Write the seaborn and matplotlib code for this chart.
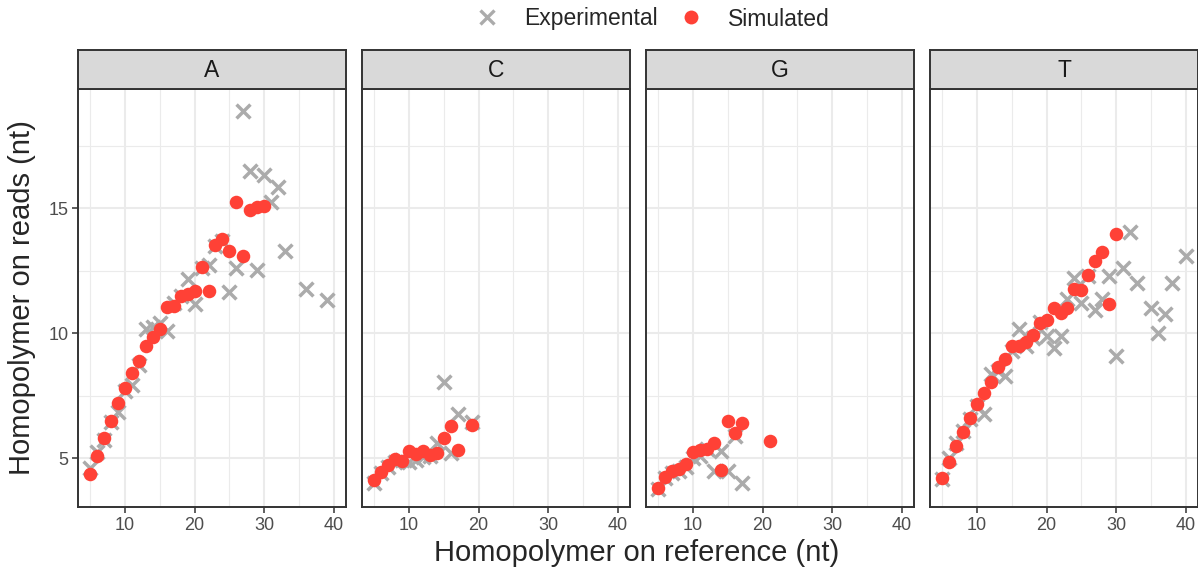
import pandas as pd
import seaborn as sb
import matplotlib.pyplot as plt
from matplotlib.lines import Line2D

# homopolymer length on reference vs on reads, per base
a_exp_x = [5, 6, 7, 8, 9, 10, 11, 12, 13, 14, 15, 16, 17, 18, 19, 20, 21, 22, 23, 24, 25, 26, 27, 28, 29, 30, 31, 32, 33, 36, 39]
a_exp_y = [4.6, 5.27, 5.75, 6.47, 6.87, 7.7, 7.93, 8.73, 10.16, 10.24, 10.4, 10.07, 11.2, 11.5, 12.16, 11.16, 12.6, 12.73, 13.5, 13.7, 11.64, 12.6, 18.87, 16.5, 12.53, 16.33, 15.23, 15.83, 13.27, 11.76, 11.33]
a_sim_x = [5, 6, 7, 8, 9, 10, 11, 12, 13, 14, 15, 16, 17, 18, 19, 20, 21, 22, 23, 24, 25, 26, 27, 28, 29, 30]
a_sim_y = [4.36, 5.11, 5.8, 6.5, 7.2, 7.83, 8.4, 8.9, 9.49, 9.84, 10.16, 11.04, 11.07, 11.47, 11.57, 11.68, 12.65, 11.69, 13.53, 13.76, 13.27, 15.25, 13.09, 14.93, 15.04, 15.07]

c_exp_x = [5, 6, 7, 8, 9, 10, 11, 12, 13, 14, 15, 16, 17, 19]
c_exp_y = [4.03, 4.4, 4.65, 4.85, 4.95, 4.85, 4.95, 5.05, 5.1, 5.6, 8.07, 5.2, 6.77, 6.47]
c_sim_x = [5, 6, 7, 8, 9, 10, 11, 12, 13, 14, 15, 16, 17, 19]
c_sim_y = [4.12, 4.47, 4.73, 4.96, 4.9, 5.29, 5.17, 5.29, 5.13, 5.2, 5.81, 6.31, 5.33, 6.32]

g_exp_x = [5, 6, 7, 8, 9, 10, 11, 12, 13, 14, 15, 16, 17]
g_exp_y = [3.79, 4.2, 4.4, 4.5, 4.67, 5.0, 5.1, 5.36, 4.49, 5.29, 4.49, 5.9, 4.0]
g_sim_x = [5, 6, 7, 8, 9, 10, 11, 12, 13, 14, 15, 16, 17, 21]
g_sim_y = [3.83, 4.24, 4.49, 4.59, 4.76, 5.25, 5.33, 5.36, 5.63, 4.52, 6.51, 6.03, 6.43, 5.68]

t_exp_x = [5, 6, 7, 8, 9, 10, 11, 12, 13, 14, 15, 16, 17, 18, 19, 20, 21, 22, 23, 24, 25, 26, 27, 28, 29, 30, 31, 32, 33, 35, 36, 37, 38, 40]
t_exp_y = [4.19, 5.03, 5.6, 6.1, 6.56, 7.1, 6.76, 8.36, 8.5, 8.29, 9.3, 10.19, 9.5, 9.8, 10.43, 9.9, 9.43, 9.9, 11.36, 12.19, 11.2, 12.3, 10.93, 11.36, 12.27, 9.09, 12.59, 14.05, 12.03, 11.03, 10.03, 10.76, 12.03, 13.07]
t_sim_x = [5, 6, 7, 8, 9, 10, 11, 12, 13, 14, 15, 16, 17, 18, 19, 20, 21, 22, 23, 24, 25, 26, 27, 28, 29, 30]
t_sim_y = [4.23, 4.87, 5.49, 6.05, 6.63, 7.16, 7.63, 8.05, 8.63, 8.96, 9.49, 9.47, 9.65, 9.92, 10.4, 10.53, 10.99, 10.8, 10.99, 11.79, 11.73, 12.32, 12.89, 13.25, 11.16, 13.95]

bases = ['A', 'C', 'G', 'T']
exp_data = {'A': (a_exp_x, a_exp_y), 'C': (c_exp_x, c_exp_y), 'G': (g_exp_x, g_exp_y), 'T': (t_exp_x, t_exp_y)}
sim_data = {'A': (a_sim_x, a_sim_y), 'C': (c_sim_x, c_sim_y), 'G': (g_sim_x, g_sim_y), 'T': (t_sim_x, t_sim_y)}

sb.set_theme(style='white')
plt.rcParams['font.family'] = ['Liberation Sans', 'DejaVu Sans']

W, H = 1198, 571
fig = plt.figure(figsize=(W / 100, H / 100), dpi=100)

gray_x = '#ABABAB'
red = '#FF4136'
lefts = [78, 362, 646, 930]
pw = 268
top, bottom = 89, 507
strip_top = 50

for i, b in enumerate(bases):
    ax = fig.add_axes([lefts[i] / W, (H - bottom) / H, pw / W, (bottom - top) / H])
    ex = pd.DataFrame({'x': exp_data[b][0], 'y': exp_data[b][1]})
    si = pd.DataFrame({'x': sim_data[b][0], 'y': sim_data[b][1]})
    sb.scatterplot(data=ex, x='x', y='y', ax=ax, marker='x', color=gray_x, s=100, linewidth=2.5, zorder=3)
    sb.scatterplot(data=si, x='x', y='y', ax=ax, marker='o', color=red, s=95, linewidth=0, zorder=4)
    ax.set_xlim(3.25, 41.75)
    ax.set_ylim(3.05, 19.77)
    ax.set_xticks([10, 20, 30, 40])
    ax.set_xticks([5, 15, 25, 35], minor=True)
    ax.set_yticks([5, 10, 15])
    ax.set_yticks([7.5, 12.5, 17.5], minor=True)
    ax.grid(which='major', color='#EBEBEB', linewidth=1.5)
    ax.grid(which='minor', color='#EBEBEB', linewidth=0.8)
    ax.set_axisbelow(True)
    ax.set_xlabel('')
    ax.set_ylabel('')
    for s in ax.spines.values():
        s.set_color('#333333')
        s.set_linewidth(1.4)
    ax.tick_params(which='major', length=4, width=1.1, color='#333333', labelsize=13, labelcolor='#4D4D4D', pad=3,
                   bottom=True, left=(i == 0))
    ax.tick_params(which='minor', length=0)
    if i > 0:
        ax.set_yticklabels([])
    # facet strip
    sax = fig.add_axes([lefts[i] / W, (H - top) / H, pw / W, (top - strip_top) / H])
    sax.set_xticks([])
    sax.set_yticks([])
    sax.set_facecolor('#D9D9D9')
    for s in sax.spines.values():
        s.set_color('#333333')
        s.set_linewidth(1.4)
    sax.text(0.5, 0.47, b, ha='center', va='center', fontsize=16.5, color='#1A1A1A', transform=sax.transAxes)

fig.text(22 / W, 1 - 298 / H, 'Homopolymer on reads (nt)', rotation=90, ha='center', va='center', fontsize=21)
fig.text(637 / W, 1 - 553 / H, 'Homopolymer on reference (nt)', ha='center', va='center', fontsize=21)

handles = [Line2D([], [], marker='x', linestyle='', color=gray_x, markersize=10, markeredgewidth=2.4),
           Line2D([], [], marker='o', linestyle='', color=red, markersize=10, markeredgewidth=0)]
fig.legend(handles, ['Experimental', 'Simulated'], loc='center', bbox_to_anchor=(647 / W, 1 - 19 / H),
           ncol=2, frameon=False, fontsize=16.5, handletextpad=0.6, columnspacing=0.45)

plt.savefig('out.png', dpi=100)
